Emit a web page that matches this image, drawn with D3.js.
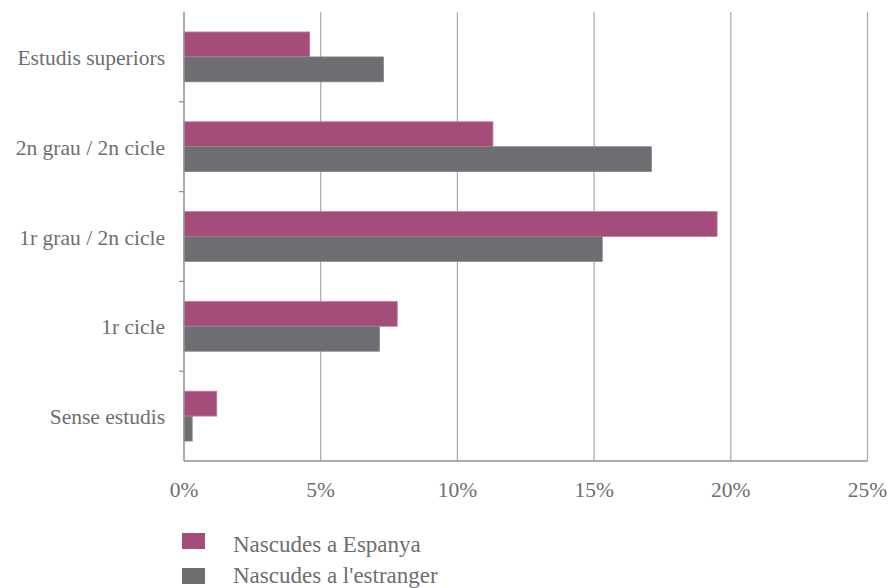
<!DOCTYPE html>
<html>
<head>
<meta charset="utf-8">
<script src="https://cdn.jsdelivr.net/npm/d3@7"></script>
<style>
  html, body { margin: 0; padding: 0; background: #fff; }
  svg { display: block; }
</style>
</head>
<body>
<svg id="chart" width="891" height="588"></svg>
<script>
// Nivell d'estudis (percentatge de dones)
const categories = ["Estudis superiors", "2n grau / 2n cicle", "1r grau / 2n cicle", "1r cicle", "Sense estudis"];
const seriesNames = ["Nascudes a Espanya", "Nascudes a l'estranger"];
const espanya = [4.6, 11.3, 19.5, 7.8, 1.2];
const estranger = [7.3, 17.1, 15.3, 7.15, 0.3];
const xTicks = [0, 5, 10, 15, 20, 25];
const colors = ["#a44d7a", "#6d6e71"];
const strokes = ["#c57ea3", "#8a8b8e"];
const textColor = "#6d6e71";
const fontFamily = "Liberation Serif";

const svg = d3.select("#chart");
const plotLeft = 184, plotRight = 867.5, plotTop = 12, plotBottom = 461;

const x = d3.scaleLinear().domain([0, 25]).range([plotLeft, plotRight]);
const y = d3.scaleBand().domain(categories).range([plotTop, plotBottom]).paddingInner(0).paddingOuter(0);
const inner = d3.scaleBand().domain(seriesNames).range([0, y.bandwidth()]).paddingInner(0).paddingOuter(0.8);

// gridlines
svg.append("g").selectAll("line").data(xTicks.slice(1)).join("line")
  .attr("x1", d => x(d)).attr("x2", d => x(d))
  .attr("y1", plotTop).attr("y2", plotBottom)
  .attr("stroke", "#a7a8aa").attr("stroke-width", 1.2);

// bars
const rows = categories.map((c, i) => ({ c, vals: [espanya[i], estranger[i]] }));
const g = svg.append("g");
rows.forEach(r => {
  r.vals.forEach((v, j) => {
    g.append("rect")
      .attr("x", x(0))
      .attr("y", y(r.c) + inner(seriesNames[j]))
      .attr("width", x(v) - x(0))
      .attr("height", inner.bandwidth())
      .attr("fill", colors[j])
      .attr("stroke", strokes[j]).attr("stroke-width", 0.8);
  });
});

// y axis line + separators between categories
svg.append("line").attr("x1", plotLeft).attr("x2", plotLeft).attr("y1", plotTop).attr("y2", plotBottom)
  .attr("stroke", "#8f9093").attr("stroke-width", 1.5);
svg.append("g").selectAll("line").data(categories.slice(1)).join("line")
  .attr("x1", plotLeft - 5).attr("x2", plotLeft)
  .attr("y1", d => y(d)).attr("y2", d => y(d))
  .attr("stroke", "#8f9093").attr("stroke-width", 1.2);
// x axis baseline
svg.append("line").attr("x1", plotLeft).attr("x2", plotRight).attr("y1", plotBottom).attr("y2", plotBottom)
  .attr("stroke", "#8f9093").attr("stroke-width", 1.5);

// category labels
svg.append("g").selectAll("text").data(categories).join("text")
  .attr("x", 165).attr("y", d => y(d) + y.bandwidth() / 2 + 8)
  .attr("text-anchor", "end").attr("font-family", fontFamily)
  .attr("font-size", 21.5).attr("fill", textColor)
  .text(d => d);

// x tick labels
svg.append("g").selectAll("text").data(xTicks).join("text")
  .attr("x", d => x(d)).attr("y", 497)
  .attr("text-anchor", "middle").attr("font-family", fontFamily)
  .attr("font-size", 21.5).attr("fill", textColor)
  .text(d => d + "%");

// legend
const leg = svg.append("g");
seriesNames.forEach((s, i) => {
  leg.append("rect").attr("x", 182).attr("y", 533 + i * 35).attr("width", 23).attr("height", 16)
    .attr("fill", colors[i]);
  leg.append("text").attr("x", 233).attr("y", 552 + i * 31)
    .attr("font-family", fontFamily).attr("font-size", 23)
    .attr("fill", textColor).text(s);
});
</script>
</body>
</html>
